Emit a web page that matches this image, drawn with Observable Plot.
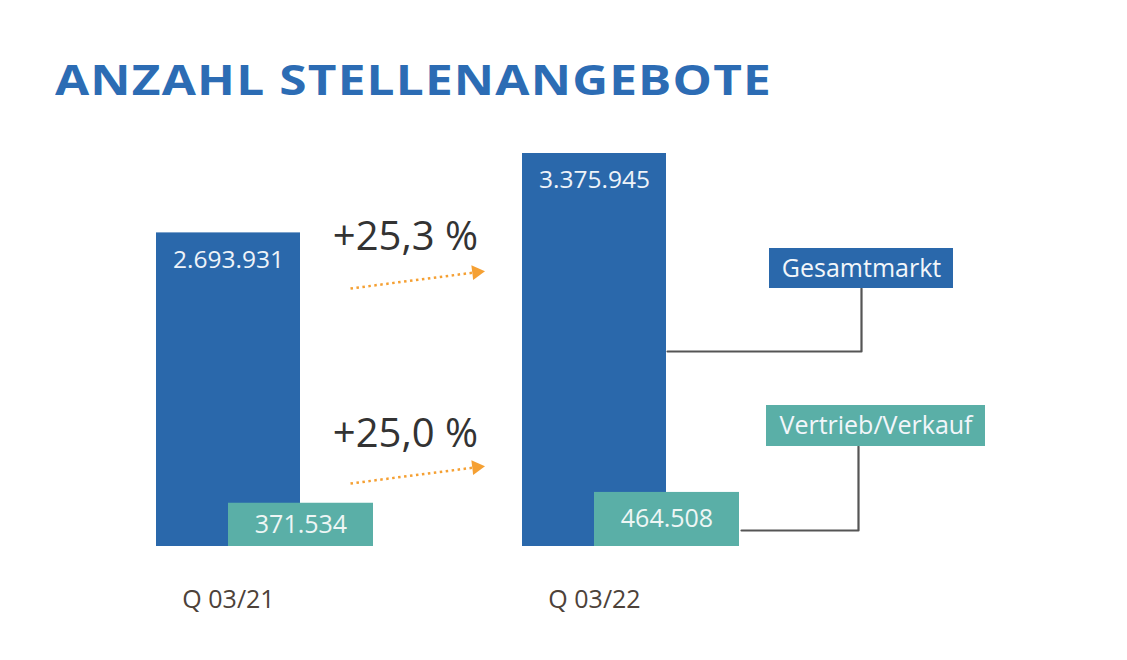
<!DOCTYPE html>
<html>
<head>
<meta charset="utf-8">
<script src="https://cdn.jsdelivr.net/npm/d3@7"></script>
<script src="https://cdn.jsdelivr.net/npm/@observablehq/plot@0.6"></script>
<style>
  html, body { margin: 0; padding: 0; background: #fff; }
  #head { position: relative; height: 120px; width: 1127px; }
  #head h1 {
    position: absolute; left: 55px; top: 58px; margin: 0;
    font-family: "Open Sans", sans-serif; font-weight: 700;
    font-size: 42px; line-height: 42px; letter-spacing: 1px;
    color: #2c6cb4; white-space: nowrap; transform-origin: 0 50%;
  }
  #chart svg { display: block; }
</style>
</head>
<body>
<div id="head"><h1 id="title">ANZAHL STELLENANGEBOTE</h1></div>
<div id="chart"></div>
<script>
// ---- data ----
const quarters = ["Q 03/21", "Q 03/22"];
const gesamtmarkt = [2693931, 3375945];
const vertrieb = [371534, 464508];
const seriesNames = ["Gesamtmarkt", "Vertrieb/Verkauf"];

// ---- style / layout constants ----
const BLUE = "#2a68ab", TEAL = "#5aafa7", ORANGE = "#f5a033", LINE = "#555555";
const W = 1127, H = 540;
const fmt = v => d3.format(",")(v).replace(/,/g, ".");
const pct = (a, b) => "+" + ((b / a - 1) * 100).toFixed(1).replace(".", ",") + " %";

// widen the title to the reference width (substitute font is narrower)
(function fitTitle() {
  const t = document.getElementById("title");
  const w0 = t.getBoundingClientRect().width;
  t.style.transform = "scaleX(" + (717 / w0) + ")";
})();

const yMax = d3.max(gesamtmarkt);
const xOpts = {domain: [0, 1], range: [228, 594]};
const yOpts = {domain: [0, yMax], range: [426, 33]};
const xs = Plot.scale({x: xOpts});
const ys = Plot.scale({y: yOpts});
const X = px => xs.invert(px), Y = py => ys.invert(py - 120); // page px -> data

const idx = quarters.map((q, i) => i);
const blueRows = idx.map(i => ({i, q: quarters[i], v: gesamtmarkt[i]}));
const tealRows = idx.map(i => ({i, q: quarters[i], v: vertrieb[i]}));

const halfW = (X(300) - X(156)) / 2;      // blue bar half width in x units
const tealOff = X(373) - X(228);          // teal bar width

// change annotations
const changes = [
  {label: pct(gesamtmarkt[0], gesamtmarkt[1]), ty: Y(237), y1: Y(288), y2: Y(272)},
  {label: pct(vertrieb[0], vertrieb[1]), ty: Y(434), y1: Y(483), y2: Y(467)}
];
const ax1 = X(350), ax2 = X(474), tx = X(405), headX = X(476);

// legend callouts
const legends = [
  {name: seriesNames[0], fill: BLUE, x1: X(769), x2: X(953), y1: Y(288), y2: Y(248),
   path: [[X(667), Y(351)], [X(861), Y(351)], [X(861), Y(288)]]},
  {name: seriesNames[1], fill: TEAL, x1: X(766), x2: X(985), y1: Y(446), y2: Y(405),
   path: [[X(741), Y(530)], [X(858), Y(530)], [X(858), Y(446)]]}
];

const chart = Plot.plot({
  width: W, height: H,
  marginTop: 33, marginBottom: 114, marginLeft: 0, marginRight: 0,
  x: {...xOpts, axis: null},
  y: {...yOpts, axis: null},
  style: {fontFamily: "'Open Sans', sans-serif", background: "#fff"},
  marks: [
    // bars
    Plot.rect(blueRows, {x1: d => d.i - halfW, x2: d => d.i + halfW, y1: 0, y2: "v", fill: BLUE}),
    Plot.rect(tealRows, {x1: d => d.i, x2: d => d.i + tealOff, y1: 0, y2: "v", fill: TEAL}),
    // value labels
    Plot.text(blueRows, {x: "i", y: "v", text: d => fmt(d.v), dy: 27, fill: "#eef3f9", fontSize: 24.5}),
    Plot.text(tealRows, {x: d => d.i + tealOff / 2, y: d => d.v / 2, text: d => fmt(d.v), fill: "#eef6f5", fontSize: 25}),
    // x axis labels
    Plot.axisX({ticks: idx, tickFormat: i => quarters[i], tickSize: 0, tickPadding: 44,
      fontSize: 25, color: "#4d4239"}),
    // change arrows
    Plot.link(changes, {x1: ax1, x2: ax2, y1: "y1", y2: "y2", stroke: ORANGE, strokeWidth: 2.5,
      strokeDasharray: "2.5,3.5"}),
    Plot.dot(changes, {x: headX, y: d => d.y2 + (d.y2 - d.y1) * 0.02, symbol: "triangle", r: 5.5,
      fill: ORANGE, rotate: 83}),
    Plot.text(changes, {x: tx, y: "ty", text: "label", fontSize: 40, fill: "#333333"}),
    // legend callouts
    Plot.line(legends.flatMap(l => l.path.map(p => ({name: l.name, x: p[0], y: p[1]}))),
      {x: "x", y: "y", z: "name", stroke: LINE, strokeWidth: 2.2}),
    Plot.rect(legends, {x1: "x1", x2: "x2", y1: "y1", y2: "y2", fill: "fill"}),
    Plot.text(legends, {x: d => (d.x1 + d.x2) / 2, y: d => (d.y1 + d.y2) / 2, text: "name",
      fill: "#f2f6fa", fontSize: 25})
  ]
});
document.getElementById("chart").append(chart);
</script>
</body>
</html>
